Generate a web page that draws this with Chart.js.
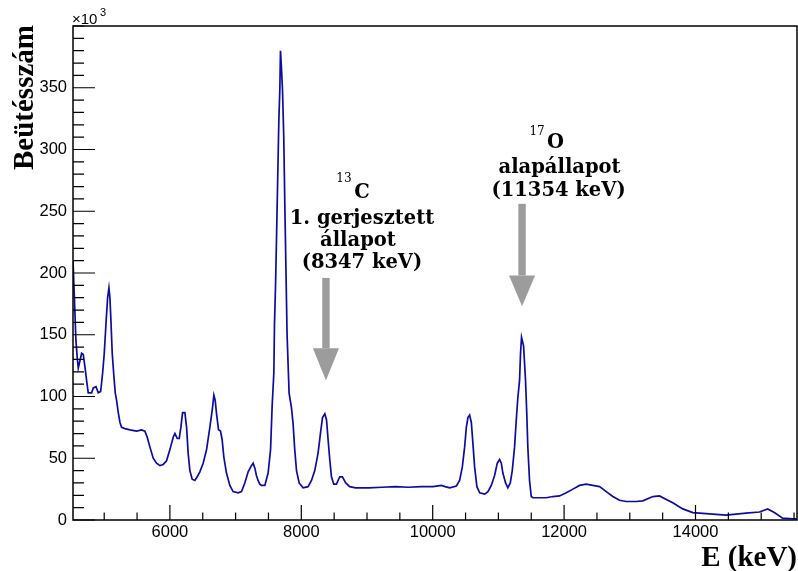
<!DOCTYPE html>
<html>
<head>
<meta charset="utf-8">
<script src="https://cdn.jsdelivr.net/npm/chart.js@4.4.1/dist/chart.umd.min.js"></script>
<style>
  html, body { margin: 0; padding: 0; background: #fff; }
  #wrap { width: 798px; height: 571px; position: relative; }
</style>
</head>
<body>
<div id="wrap"><canvas id="spectrum"></canvas></div>
<script>
// spectrum: bin energy (keV) and counts (x10^3)
const energies = [
    4525, 4550, 4570, 4590, 4605, 4631, 4656, 4681, 4707, 4732, 4757, 4783, 4808, 4834, 4875, 4910,
    4946, 4976, 5001, 5026, 5052, 5072, 5087, 5102, 5122, 5148, 5168, 5188, 5214, 5240, 5265, 5316,
    5392, 5493, 5569, 5619, 5655, 5696, 5746, 5797, 5848, 5898, 5949, 6000, 6050, 6076, 6112, 6142,
    6167, 6193, 6228, 6254, 6278, 6304, 6339, 6380, 6415, 6456, 6506, 6558, 6608, 6649, 6669, 6689,
    6710, 6740, 6770, 6795, 6821, 6861, 6912, 6962, 7039, 7090, 7140, 7191, 7241, 7267, 7293, 7317,
    7342, 7368, 7394, 7445, 7495, 7532, 7556, 7582, 7592, 7608, 7623, 7638, 7658, 7673, 7683, 7698,
    7714, 7733, 7749, 7764, 7783, 7814, 7850, 7875, 7900, 7927, 7967, 8027, 8103, 8155, 8205, 8255,
    8291, 8323, 8358, 8384, 8408, 8433, 8459, 8494, 8535, 8585, 8626, 8676, 8737, 8827, 9027, 9228,
    9428, 9628, 9829, 10004, 10133, 10190, 10259, 10360, 10410, 10451, 10486, 10512, 10536, 10562, 10588, 10612,
    10638, 10673, 10715, 10791, 10841, 10892, 10942, 10983, 11018, 11044, 11068, 11109, 11144, 11181, 11211, 11246,
    11272, 11296, 11322, 11337, 11352, 11383, 11413, 11432, 11448, 11474, 11500, 11525, 11728, 11828, 11931, 12033,
    12134, 12235, 12337, 12437, 12540, 12641, 12742, 12844, 12945, 13098, 13198, 13351, 13452, 13578, 13654, 13806,
    13959, 14212, 14465, 14770, 14973, 15099, 15200, 15326, 15479, 15545
];
const counts = [
    210, 174, 145, 131, 123, 129, 135, 134, 124, 113, 103, 103, 103, 107, 108, 103,
    104, 119, 135, 158, 180, 188, 180, 162, 135, 116, 103, 97, 87, 79, 75, 74,
    73, 72, 73, 72, 67, 59, 50, 46, 44, 45, 48, 57, 67, 70, 66, 66,
    75, 87, 87, 75, 54, 40, 33, 32, 35, 39, 46, 57, 75, 91, 101, 97,
    86, 73, 72, 65, 51, 38, 28, 23, 22, 23, 30, 39, 44, 46, 42, 36,
    32, 29, 28, 28, 38, 57, 92, 119, 159, 190, 229, 269, 323, 348, 380, 366,
    348, 310, 256, 210, 151, 103, 91, 78, 57, 40, 30, 26, 27, 32, 40, 54,
    70, 83, 86, 81, 65, 49, 35, 29, 29, 35, 35, 30, 27, 26, 26, 26.5,
    27, 26.5, 27, 27, 28, 27, 26, 27.5, 32, 43, 59, 75, 83, 85, 79, 62,
    43, 27, 22, 21, 23, 28, 36, 46, 49, 46, 38, 30, 26, 30, 40, 59,
    81, 99, 113, 135, 148, 141, 113, 86, 59, 32, 19, 18, 18, 19, 19.5, 22,
    25, 28, 29, 28, 27, 23, 19, 16, 15, 15, 15.5, 19, 19.5, 16, 14, 9,
    6, 5, 4, 5.5, 6.5, 9, 6, 1.5, 1, 1
];
const xTickValues = [6000, 8000, 10000, 12000, 14000];
const yTickValues = [0, 50, 100, 150, 200, 250, 300, 350];
const xMinorStep = 500;
const yMinorStep = 10;

const lineColor = '#0c0ca2';
const arrowColor = '#9c9c9c';

// annotations: arrows at the two states, texts offset in pixels from the arrow
const arrows = [
    { energy: 8375, top: 196, headBase: 139, tip: 113 },
    { energy: 11360, top: 256, headBase: 198, tip: 173 }
];
const notes = [
    { energy: 8375, dx: 18, y: 274, text: '13', bold: false, size: 12 },
    { energy: 8375, dx: 36, y: 261, text: 'C', bold: true, size: 19.5 },
    { energy: 8375, dx: 36, y: 240, text: '1. gerjesztett', bold: true, size: 19.5 },
    { energy: 8375, dx: 32, y: 222, text: 'állapot', bold: true, size: 19.5 },
    { energy: 8375, dx: 36, y: 204, text: '(8347 keV)', bold: true, size: 19.5 },
    { energy: 11360, dx: 15, y: 312, text: '17', bold: false, size: 12 },
    { energy: 11360, dx: 33.5, y: 301, text: 'O', bold: true, size: 19.5 },
    { energy: 11360, dx: 37.5, y: 281, text: 'alapállapot', bold: true, size: 19.5 },
    { energy: 11360, dx: 36.5, y: 262, text: '(11354 keV)', bold: true, size: 19.5 }
];

const tickFont = { family: '"Liberation Sans", Arial, sans-serif', size: 16.5 };

const rootFrame = {
    id: 'rootFrame',
    afterDraw(chart) {
        const ctx = chart.ctx;
        const xs = chart.scales.x;
        const ys = chart.scales.y;
        const area = chart.chartArea;
        ctx.save();
        ctx.strokeStyle = '#000';
        ctx.lineWidth = 1.5;
        ctx.strokeRect(area.left, area.top, area.right - area.left, area.bottom - area.top);

        // ticks drawn inside the frame, ROOT style
        ctx.lineWidth = 1.2;
        ctx.beginPath();
        for (let v = Math.ceil(xs.min / xMinorStep) * xMinorStep; v <= xs.max; v += xMinorStep) {
            const px = xs.getPixelForValue(v);
            const len = xTickValues.includes(v) ? 15 : 7.5;
            ctx.moveTo(px, area.bottom);
            ctx.lineTo(px, area.bottom - len);
        }
        for (let v = 0; v <= ys.max; v += yMinorStep) {
            const py = ys.getPixelForValue(v);
            const len = yTickValues.includes(v) ? 22 : 11;
            ctx.moveTo(area.left, py);
            ctx.lineTo(area.left + len, py);
        }
        ctx.stroke();

        // multiplier above the y axis
        ctx.fillStyle = '#000';
        ctx.textAlign = 'left';
        ctx.textBaseline = 'alphabetic';
        ctx.font = '15px "Liberation Sans", Arial, sans-serif';
        ctx.fillText('\u00d710', area.left - 1, 24);
        ctx.font = '11px "Liberation Sans", Arial, sans-serif';
        ctx.fillText('3', area.left + 27, 16);

        // axis titles
        ctx.font = 'bold 29px "Liberation Serif", "Times New Roman", serif';
        ctx.textAlign = 'right';
        ctx.fillText('E (keV)', area.right, 566);
        ctx.save();
        ctx.translate(33, 170);
        ctx.rotate(-Math.PI / 2);
        ctx.textAlign = 'left';
        ctx.fillText('Beütésszám', 0, 0);
        ctx.restore();

        // arrows
        ctx.fillStyle = arrowColor;
        arrows.forEach(a => {
            const cx = xs.getPixelForValue(a.energy);
            const yTop = ys.getPixelForValue(a.top);
            const yBase = ys.getPixelForValue(a.headBase);
            const yTip = ys.getPixelForValue(a.tip);
            ctx.fillRect(cx - 3.7, yTop, 7.4, yBase - yTop);
            ctx.beginPath();
            ctx.moveTo(cx - 13, yBase);
            ctx.lineTo(cx + 13, yBase);
            ctx.lineTo(cx, yTip);
            ctx.closePath();
            ctx.fill();
        });

        // labels
        ctx.fillStyle = '#000';
        ctx.textAlign = 'center';
        notes.forEach(n => {
            ctx.font = (n.bold ? 'bold ' : '') + n.size + 'px "DejaVu Serif", serif';
            ctx.fillText(n.text, xs.getPixelForValue(n.energy) + n.dx, ys.getPixelForValue(n.y));
        });
        ctx.restore();
    }
};

const points = energies.map((e, i) => ({ x: e, y: counts[i] }));

new Chart(document.getElementById('spectrum').getContext('2d'), {
    type: 'line',
    data: {
        datasets: [{
            label: 'Beütésszám',
            data: points,
            borderColor: lineColor,
            borderWidth: 1.7,
            pointRadius: 0,
            tension: 0,
            fill: false
        }]
    },
    options: {
        responsive: true,
        maintainAspectRatio: false,
        animation: false,
        layout: { padding: { top: 26, right: 1, left: 0, bottom: 0 } },
        plugins: {
            legend: { display: false },
            tooltip: { enabled: false }
        },
        scales: {
            x: {
                type: 'linear',
                min: 4525,
                max: 15545,
                grid: { display: false, drawTicks: false },
                border: { display: false },
                afterBuildTicks: scale => { scale.ticks = xTickValues.map(v => ({ value: v })); },
                afterFit: scale => { scale.height = 51; },
                ticks: {
                    color: '#000',
                    font: tickFont,
                    padding: 3,
                    maxRotation: 0,
                    callback: v => String(v)
                }
            },
            y: {
                min: 0,
                max: 400,
                grid: { display: false, drawTicks: false },
                border: { display: false },
                afterBuildTicks: scale => { scale.ticks = yTickValues.map(v => ({ value: v })); },
                afterFit: scale => { scale.width = 73; },
                ticks: {
                    color: '#000',
                    font: tickFont,
                    padding: 6,
                    callback: v => String(v)
                }
            }
        }
    },
    plugins: [rootFrame]
});
</script>
</body>
</html>
